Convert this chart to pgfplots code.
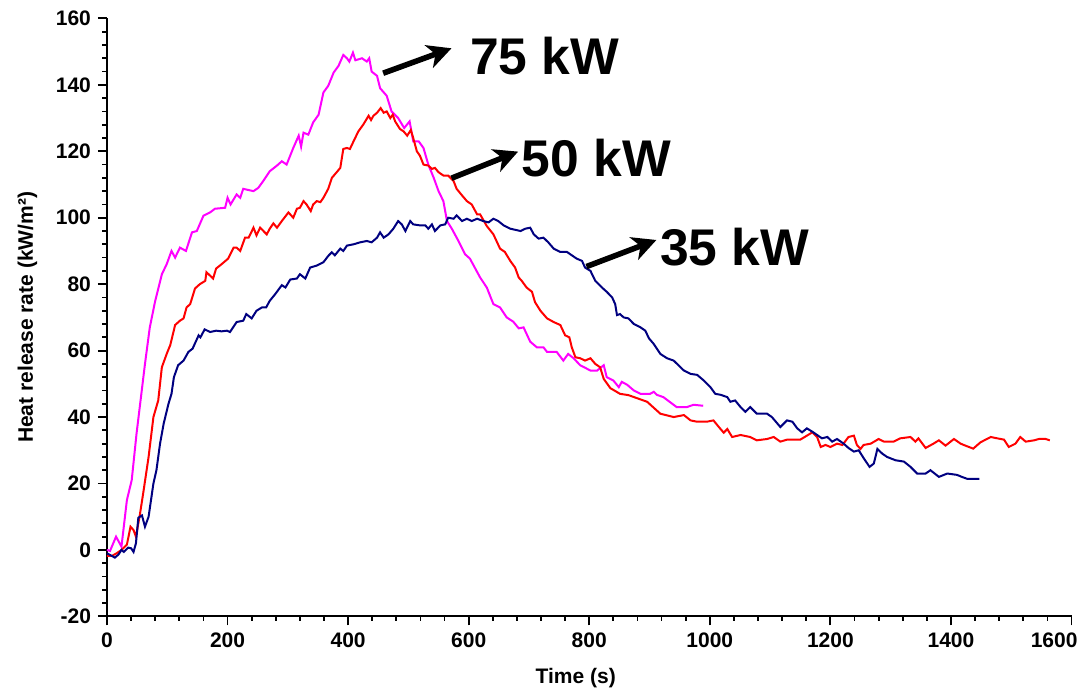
\documentclass[border=0pt]{standalone}
\usepackage{pgfplots}
\pgfplotsset{compat=1.18}
\usepackage{fontspec}
\setmainfont{Liberation Sans}
\usetikzlibrary{arrows.meta}
\definecolor{navyc}{RGB}{0,0,128}
\definecolor{magc}{RGB}{255,0,255}
\definecolor{redc}{RGB}{255,0,0}
\begin{document}
\begin{tikzpicture}
\useasboundingbox (-53.5pt,-36.3pt) rectangle (486pt,308.2pt);
\begin{axis}[
  at={(0,0)}, anchor=south west,
  scale only axis, width=482.25pt, height=299pt,
  xmin=0, xmax=1600, ymin=-20, ymax=160,
  axis lines=left, axis line style={-, line width=1pt, black},
  xtick={0,200,...,1600},
  xticklabels={0,200,400,600,800,1000,1200,1400,{\makebox[6pt][r]{1600}}},
  ytick={-20,0,...,160},
  yticklabels={-20,0,20,40,60,80,100,120,140,160},
  minor x tick num=4, minor y tick num=4,
  tick align=outside,
  major tick length=4.5pt, minor tick length=2.25pt,
  every tick/.style={black, line width=0.9pt},
  ticklabel style={font=\fontsize{10.5}{12}\selectfont\bfseries},
  /pgf/number format/assume math mode=true,
  xlabel={Time (s)},
  ylabel={Heat release rate (kW/m²)},
  every axis x label/.style={at={([yshift=-33.5pt]axis description cs:0.486,0)}, anchor=base, font=\fontsize{10.5}{12}\selectfont\bfseries},
  every axis y label/.style={at={([xshift=-37pt]axis description cs:0,0.5)}, rotate=90, anchor=base, font=\fontsize{10.5}{12}\selectfont\bfseries},
  clip=false,
]
% 75 kW
\addplot[magc, line width=1pt, mark=none] coordinates {
(0,0) (5,-0.3) (15,4) (24,1) (33,15) (41,21) (49,35) (55,44) (63,56) (71,67) (80,75) (91,83) (99,86) (107,90) (113,88) (121,91) (131,90) (141,95.6) (149,96) (160,100.6) (171,101.6) (179,102.7) (196,103) (200,106) (205,104) (215,107) (221,106) (226,108.7) (243,108) (251,109) (259,111) (270,114) (282,115.7) (290,117) (298,116) (309,121) (318,124.7) (322,121.4) (326,125.6) (334,125) (342,128.7) (351,131) (359,137.7) (367,139.7) (376,143.7) (384,145.7) (392,149) (398,148) (402,147) (408,149.7) (412,147.4) (423,148) (431,147) (435,148) (439,144) (448,142.7) (453,139) (464,136.7) (472,132) (483,130) (493,127) (502,129) (508,123) (517,123) (525,121) (533,116) (542,112) (550,108) (558,105) (564,99) (572,96.7) (583,93) (594,89) (602,87.7) (619,82) (630,79) (641,74) (652,73) (663,70) (674,68.7) (683,66.7) (691,67) (702,62.7) (713,61) (724,61) (730,59.6) (746,59.6) (757,57) (765,59) (774,57.7) (785,55.6) (802,54) (813,54) (824,55.6) (829,52) (840,51) (849,49) (854,50.6) (863,49.7) (874,48) (885,47) (901,47) (907,47.6) (912,46.7) (923,46) (945,43) (962,43) (973,43.7) (989,43.4)
};
% 50 kW
\addplot[redc, line width=1pt, mark=none] coordinates {
(0,-1.8) (8,-1.8) (16,-1) (24,0) (33,1.6) (39,7) (44,6) (48,4) (54,10) (60,17) (69,28) (77,40) (85,45) (91,55) (99,59) (105,61.7) (113,67.7) (121,69) (127,69.7) (132,73) (138,74) (146,78.7) (154,80) (163,81) (165,83.6) (176,81.7) (181,84.7) (190,86) (201,87.7) (210,91) (215,91) (221,90) (229,94) (235,94) (243,97) (248,94.7) (254,97) (265,95) (270,96.7) (276,98.3) (282,97) (290,99) (301,101.6) (309,100) (315,102.7) (320,103) (326,105) (331,104) (338,102) (342,104) (348,105) (354,104.7) (359,106) (367,108.7) (373,112) (381,113.7) (387,115) (392,120.7) (398,121) (403,120.7) (409,123) (417,126) (425,128) (434,130.7) (438,129.4) (442,130.7) (448,131.6) (454,133) (459,131.6) (464,132) (470,130) (474,131) (478,129) (486,126.7) (492,126) (498,124.7) (504,126.4) (508,124) (514,120) (519,118.7) (525,116) (533,115.7) (539,114.7) (544,115) (550,113.7) (558,112.7) (566,112.7) (575,111) (580,108.7) (589,106.7) (597,105) (605,104) (614,101) (619,101) (630,97.5) (641,95) (652,90.7) (660,89.7) (669,87) (677,85) (683,82) (688,81) (696,79) (705,77.7) (710,74.6) (719,72) (730,69.7) (741,68.6) (752,67.7) (760,64.6) (767,64) (771,61) (777,58) (785,57.7) (793,57) (802,57.7) (810,56) (818,55) (824,51.5) (835,48.7) (851,47) (865,46.6) (879,45.7) (896,44.6) (918,41) (940,40) (957,40.6) (968,39) (979,38.6) (995,38.6) (1006,39) (1015,37) (1023,35.3) (1029,36.4) (1037,34) (1051,34.6) (1067,34) (1078,33) (1095,33.4) (1106,34) (1117,32.6) (1128,33.2) (1150,33.2) (1161,34.4) (1170,35.4) (1178,34) (1184,31) (1192,31.6) (1200,31) (1211,32) (1220,31.6) (1230,34) (1239,34.4) (1244,31.6) (1250,30.4) (1255,31.6) (1267,32) (1280,33.4) (1289,32.6) (1305,32.6) (1316,33.6) (1333,34) (1341,32.6) (1346,33.6) (1358,30.7) (1371,32) (1380,33) (1391,31.4) (1405,33.4) (1416,32) (1424,31.4) (1437,30.5) (1449,32.4) (1466,34) (1474,33.7) (1488,33.2) (1496,31) (1507,32) (1515,34) (1524,32.6) (1538,33) (1546,33.4) (1557,33.4) (1564,33)
};
% 35 kW
\addplot[navyc, line width=1pt, mark=none] coordinates {
(0,-1) (8,-1.8) (13,-2.3) (19,-1.4) (24,0) (28,-0.6) (35,0.7) (40,0.5) (44,-0.6) (48,2) (52,9.7) (58,10.4) (63,7) (69,10) (77,20) (82,24) (88,32) (94,38) (102,44) (107,47) (111,52) (118,55.6) (127,57) (135,59.6) (142,60.6) (152,64.6) (155,64) (162,66.4) (171,65.6) (181,66) (190,65.8) (199,66) (204,65.6) (215,68.6) (226,69) (231,71) (240,69.7) (248,72) (257,73) (264,73) (270,75) (279,77) (290,79.7) (296,79) (304,81.4) (315,81.7) (320,83) (329,81.7) (337,85) (348,85.6) (359,86.6) (367,88.5) (373,89.6) (378,88.7) (387,90.7) (392,90) (398,91.6) (409,92) (420,92.6) (431,93) (439,92.6) (448,94) (453,95.6) (459,94) (467,95) (475,96.7) (483,99) (489,98) (495,96) (503,99) (508,98) (519,97.7) (528,97.7) (533,96.7) (539,98) (544,96) (553,97.7) (561,98) (566,100) (575,99.7) (580,100.7) (589,99) (597,99.7) (605,99) (614,99.7) (624,99) (633,98.6) (641,99.7) (649,99) (658,97.7) (669,96.7) (686,96) (694,96.7) (702,97) (708,95) (716,93.7) (724,94) (732,92.6) (741,90.7) (752,89.7) (763,89.7) (771,88.7) (779,87.7) (788,87) (793,85) (802,84) (810,81) (821,79) (829,77.7) (838,76) (843,74) (846,70.7) (851,71) (857,70) (865,69.7) (874,68) (885,67) (893,66) (899,63.7) (907,62) (918,59) (929,57.7) (940,57) (948,55.6) (957,54) (968,53) (979,52.7) (990,51) (1001,49) (1009,47) (1018,46.7) (1029,46) (1034,44.6) (1042,45) (1051,43) (1059,41.6) (1067,43) (1078,41) (1095,41) (1103,40) (1117,37) (1128,39) (1137,38.6) (1145,36.6) (1153,35.4) (1161,36.6) (1170,35.6) (1178,34.6) (1186,33.6) (1195,34) (1203,32.6) (1211,33.4) (1222,32) (1230,30.7) (1239,29.6) (1247,30) (1255,27.7) (1265,25) (1272,26) (1278,30.4) (1286,29) (1294,28) (1308,27) (1322,26.6) (1333,25) (1344,23) (1358,23) (1366,24) (1380,22) (1394,23) (1410,22.6) (1418,22) (1427,21.4) (1447,21.4)
};
% annotations
\draw[line width=2.8pt, -{Stealth[length=12pt, width=12pt, inset=3.5pt]}] (axis cs:458.1,143.5) -- (axis cs:571.5,151.0);
\draw[line width=2.8pt, -{Stealth[length=12pt, width=12pt, inset=3.5pt]}] (axis cs:571.5,111.9) -- (axis cs:682,119.9);
\draw[line width=2.8pt, -{Stealth[length=12pt, width=12pt, inset=3.5pt]}] (axis cs:795.4,85.3) -- (axis cs:911.4,93.3);
\node[anchor=base west, inner sep=0pt, font=\fontsize{25.8}{30}\selectfont\bfseries] at (axis cs:601.9,143.0) {75 kW};
\node[anchor=base west, inner sep=0pt, font=\fontsize{25.8}{30}\selectfont\bfseries] at (axis cs:687.6,112.4) {50 kW};
\node[anchor=base west, inner sep=0pt, font=\fontsize{25.8}{30}\selectfont\bfseries] at (axis cs:917,85.5) {35 kW};
\end{axis}
\end{tikzpicture}
\end{document}
